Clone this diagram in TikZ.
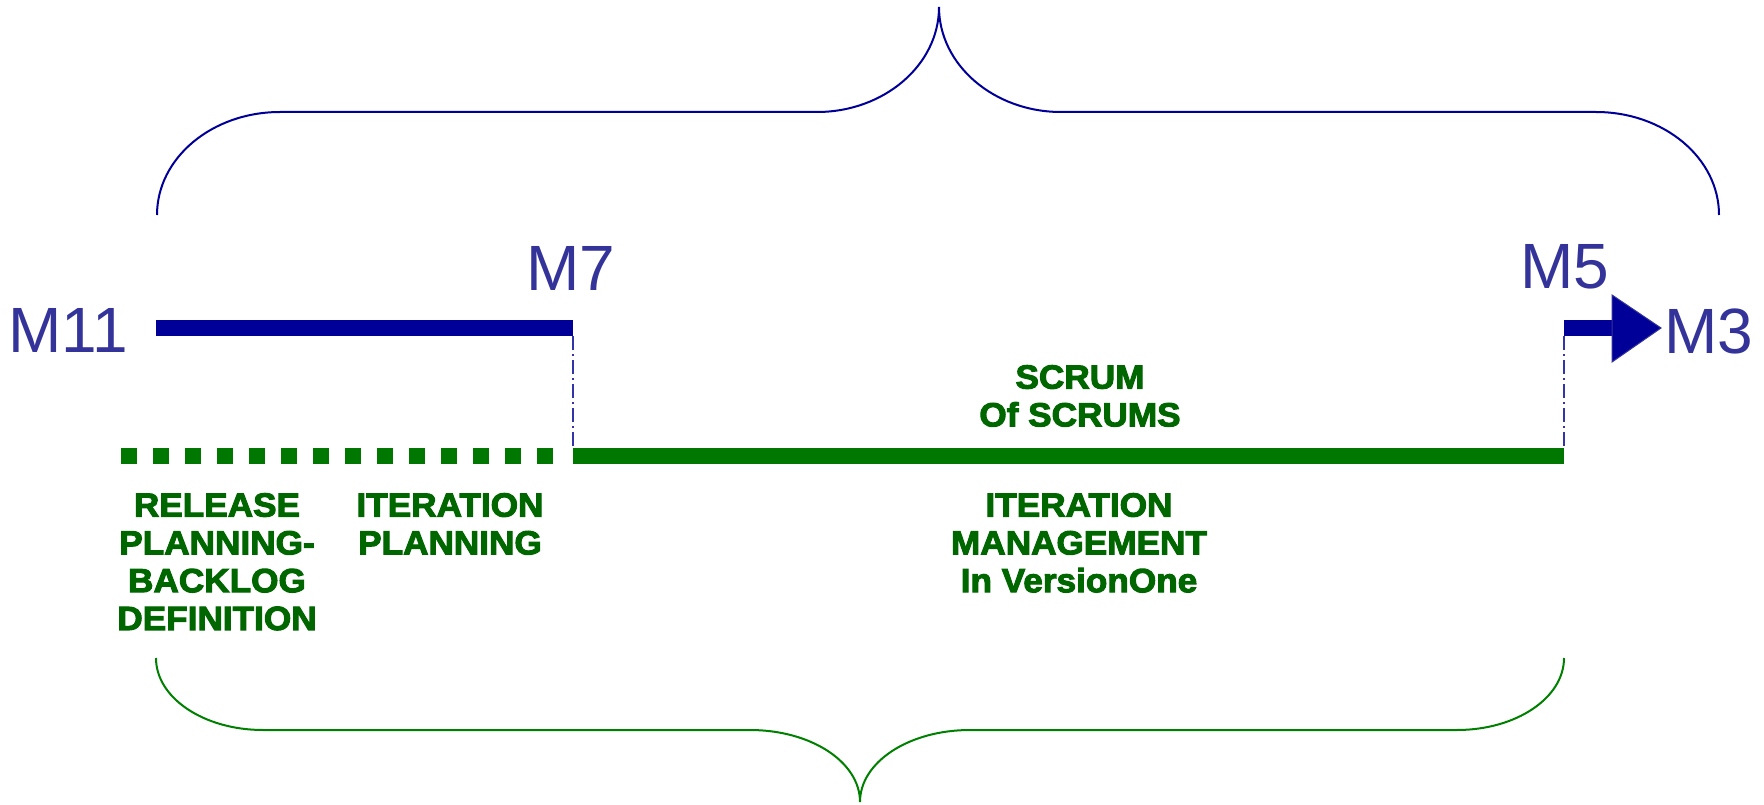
\documentclass[tikz,border=0pt]{standalone}
\usepackage{fontspec}
\setmainfont{Liberation Sans}
\newfontfamily\lblfont[BoldFeatures={FakeBold=3,FakeStretch=1.05}]{Liberation Sans}
\definecolor{navy}{HTML}{000099}
\definecolor{mtext}{HTML}{333399}
\definecolor{gline}{HTML}{007700}
\definecolor{gtext}{HTML}{006600}
\definecolor{gbrace}{HTML}{008000}
\definecolor{dashblue}{HTML}{3333AA}
\tikzset{
  mlabel/.style={text=mtext, inner sep=0pt, anchor=base, font=\fontsize{64}{76}\selectfont},
  glabel/.style={text=gtext, inner sep=0pt, anchor=north, align=center, font=\lblfont\bfseries\fontsize{33.5}{37.8}\selectfont},
  bluebar/.style={draw=navy, line width=16pt},
  greenbar/.style={draw=gline, line width=16pt},
  greendots/.style={draw=gline, line width=16pt, dash pattern=on 16pt off 16pt},
  guide/.style={draw=dashblue, line width=1.3pt, dash pattern=on 14pt off 4pt on 2pt off 4pt},
  topbrace/.style={draw=navy, line width=2pt},
  botbrace/.style={draw=gbrace, line width=2pt},
}
\begin{document}
\begin{tikzpicture}[x=1pt,y=-1pt]
\useasboundingbox (0,0) rectangle (1764,805);
% top brace
\draw[topbrace] (157,215) .. controls (157,158) and (212,112) .. (280,112) -- (817,112)
  .. controls (884,112) and (939,65) .. (939,7)
  .. controls (939,65) and (994,112) .. (1061,112) -- (1596,112)
  .. controls (1664,112) and (1719,158) .. (1719,215);
% bottom brace
\draw[botbrace] (156,658) .. controls (156,698) and (204,730) .. (263,730) -- (750,730)
  .. controls (811,730) and (860,762) .. (860,802)
  .. controls (860,762) and (909,730) .. (970,730) -- (1457,730)
  .. controls (1516,730) and (1564,698) .. (1564,658);
% milestone labels
\node[mlabel] (m11) at (68,352) {M11};
\node[mlabel] (m7) at (571,290) {M7};
\node[mlabel] (m5) at (1565,288) {M5};
\node[mlabel] (m3) at (1709,353) {M3};
% blue timeline
\coordinate (b0) at (156,328);
\coordinate (b1) at (573,328);
\coordinate (c0) at (1564,328);
\coordinate (c1) at (1612,328);
\coordinate (tip) at (1661,328);
\draw[bluebar] (b0) -- (b1);
\draw[bluebar] (c0) -- (c1);
\draw[draw=mtext, line width=1pt, fill=navy] (1612,295) -- (tip) -- (1612,362) -- cycle;
% green timeline
\coordinate (g0) at (121,456);
\coordinate (g1) at (557,456);
\coordinate (g2) at (573,456);
\coordinate (g3) at (1564,456);
\draw[greendots] (g0) -- (g1);
\draw[greenbar] (g2) -- (g3);
% guides
\coordinate (d0) at (573,336);
\coordinate (d1) at (573,448);
\coordinate (e0) at (1564,336);
\coordinate (e1) at (1564,448);
\draw[guide] (d0) -- (d1);
\draw[guide] (e0) -- (e1);
% green labels
\node[glabel] (sos) at (1080,365) {SCRUM\\Of SCRUMS};
\node[glabel] (rel) at (217,493) {RELEASE\\PLANNING-\\BACKLOG\\DEFINITION};
\node[glabel] (itp) at (450,493) {ITERATION\\PLANNING};
\node[glabel] (itm) at (1079,493) {ITERATION\\MANAGEMENT\\In VersionOne};
\end{tikzpicture}
\end{document}
